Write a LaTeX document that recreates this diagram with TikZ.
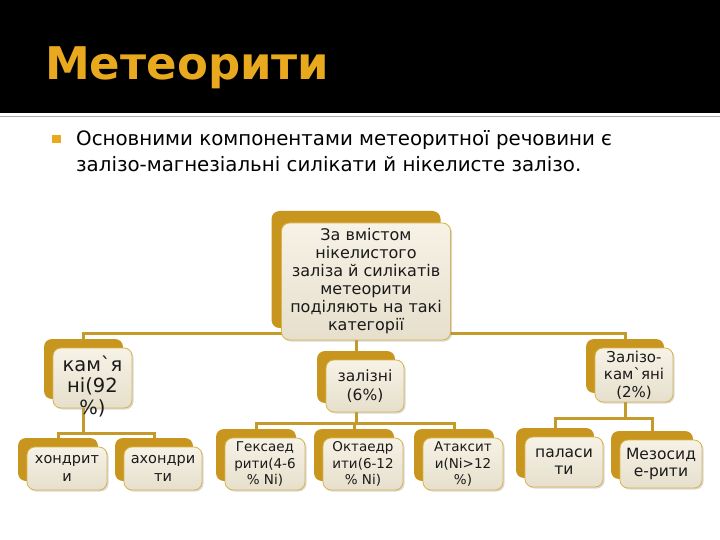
\documentclass[tikz,border=0pt]{standalone}
\usepackage{fontspec}
\setmainfont{DejaVu Sans}
\usepackage{xcolor}
\usepackage{tikz}
\usetikzlibrary{shadows, backgrounds}
\definecolor{TitleGold}{HTML}{E8A91F}
\definecolor{BackGold}{HTML}{C8961E}
\definecolor{LinkGold}{HTML}{C49A2A}
\definecolor{EdgeGold}{HTML}{D9B44A}
\definecolor{CreamTop}{HTML}{F6F2E6}
\definecolor{CreamBot}{HTML}{E6DFCC}
\definecolor{RuleGray}{HTML}{AAAAAA}
\definecolor{TextDark}{HTML}{1A1A1A}

\begin{document}
\begin{tikzpicture}[x=1pt, y=-1pt,
  backbox/.style={fill=BackGold, rounded corners=8pt, inner sep=0pt},
  frontbox/.style={draw=EdgeGold, line width=0.8pt, rounded corners=8pt, top color=CreamTop, bottom color=CreamBot, inner sep=0pt, align=center, text=TextDark, drop shadow={shadow xshift=1.5pt, shadow yshift=-1.5pt, opacity=0.3, fill=gray}},
  boxtext/.style={align=center, text=TextDark, inner sep=0pt},
  link/.style={draw=LinkGold, line width=3pt}
]
\useasboundingbox (0,0) rectangle (720,540);

% Header
\fill[black] (0,0) rectangle (720,113);
\draw[RuleGray, line width=1pt] (0,116.5) -- (720,116.5);
\node[anchor=base west, inner sep=0pt, text=TitleGold, font=\fontsize{45}{50}\selectfont\bfseries] (title) at (45,80) {Метеорити};

% Bullet text
\node[fill=TitleGold, minimum size=8.5, inner sep=0pt] (bullet) at (56.5,139) {};
\node[anchor=base west, inner sep=0pt, align=left, font=\fontsize{19.8}{26}\selectfont] (intro) at (76,172) {Основними компонентами метеоритної речовини є\\залізо-магнезіальні силікати й нікелисте залізо.};

% Root box
\node[backbox, minimum width=169, minimum height=117] (rootB) at (356,269.5) {};
\node[frontbox, minimum width=169, minimum height=117, font=\fontsize{16}{18}\selectfont] (root) at ([shift={(10,12)}]rootB) {За вмістом\\нікелистого\\заліза й силікатів\\метеорити\\поділяють на такі\\категорії};

% First level
\node[backbox, minimum width=79, minimum height=60] (kamB) at (83.5,369) {};
\node[frontbox, minimum width=79, minimum height=60] (kam) at ([shift={(9,9)}]kamB) {};
\node[boxtext, font=\fontsize{19.5}{21.5}\selectfont] (kamT) at ([yshift=-8pt]kam.center) {кам\textasciigrave я\\ні(92\\\%)};

\node[backbox, minimum width=78, minimum height=52] (zalB) at (356,377) {};
\node[frontbox, minimum width=78, minimum height=52, font=\fontsize{15.5}{19}\selectfont] (zal) at ([shift={(9,9)}]zalB) {залізні\\(6\%)};

\node[backbox, minimum width=78, minimum height=54] (zkB) at (625,366) {};
\node[frontbox, minimum width=78, minimum height=54, font=\fontsize{15}{17.5}\selectfont] (zk) at ([shift={(9,9)}]zkB) {Залізо-\\кам\textasciigrave яні\\(2\%)};

% Second level: back plates
\node[backbox, minimum width=80, minimum height=43] (khB) at (58,459.5) {};
\node[backbox, minimum width=78, minimum height=43] (akhB) at (154,459.5) {};
\node[backbox, minimum width=80, minimum height=52] (hexB) at (256,455) {};
\node[backbox, minimum width=80, minimum height=52] (octB) at (354,455) {};
\node[backbox, minimum width=80, minimum height=52] (atakB) at (454,455) {};
\node[backbox, minimum width=78, minimum height=50] (palB) at (555,453) {};
\node[backbox, minimum width=82, minimum height=48] (mezB) at (652,455) {};

% Second level: front boxes
\node[frontbox, minimum width=80, minimum height=43, font=\fontsize{14.5}{18}\selectfont] (kh) at ([shift={(9,9)}]khB) {хондрит\\и};
\node[frontbox, minimum width=78, minimum height=43, font=\fontsize{14.5}{18}\selectfont] (akh) at ([shift={(9,9)}]akhB) {ахондри\\ти};
\node[frontbox, minimum width=80, minimum height=52, font=\fontsize{13.5}{16.5}\selectfont] (hex) at ([shift={(9,9)}]hexB) {Гексаед\\рити(4-6\\\% Ni)};
\node[frontbox, minimum width=80, minimum height=52, font=\fontsize{13.5}{16.5}\selectfont] (oct) at ([shift={(9,9)}]octB) {Октаедр\\ити(6-12\\\% Ni)};
\node[frontbox, minimum width=80, minimum height=52, font=\fontsize{13.5}{16.5}\selectfont] (atak) at ([shift={(9,9)}]atakB) {Атаксит\\и(Ni>12\\\%)};
\node[frontbox, minimum width=78, minimum height=50, font=\fontsize{15.5}{17}\selectfont] (pal) at ([shift={(9,9)}]palB) {паласи\\ти};
\node[frontbox, minimum width=82, minimum height=48, font=\fontsize{15.5}{17}\selectfont] (mez) at ([shift={(9,9)}]mezB) {Мезосид\\е-рити};

% Tree lines
\coordinate (topbar) at (0,333);
\coordinate (kbar) at (0,433);
\coordinate (zbar) at (0,423);
\coordinate (zkbar) at (0,418);
\begin{scope}[on background layer]
\fill[white] (0,113) rectangle (720,540);
\draw[link] (kamB.north) |- (topbar -| zkB.north) -- (zkB.north);
\draw[link] (rootB.center) -- (zalB.north);
\draw[link] (kamB.center) -- (kamB.center |- kbar);
\draw[link] (khB.north) |- (kbar -| akhB.north) -- (akhB.north);
\draw[link] (zalB.center) -- (zalB.center |- zbar);
\draw[link] (hexB.north) |- (zbar -| atakB.north) -- (atakB.north);
\draw[link] (octB.north) -- (octB.north |- zbar);
\draw[link] (zkB.center) -- (zkB.center |- zkbar);
\draw[link] (palB.north) |- (zkbar -| mezB.north) -- (mezB.north);
\end{scope}
\end{tikzpicture}
\end{document}
